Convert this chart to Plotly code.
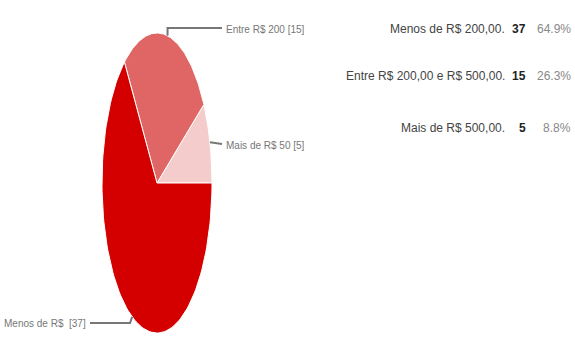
import numpy as np
import plotly.graph_objects as go

# Survey answers: spending bracket and number of responses
categories = ["Menos de R$ 200,00.", "Entre R$ 200,00 e R$ 500,00.", "Mais de R$ 500,00."]
short_labels = ["Menos de R$ ", "Entre R$ 200", "Mais de R$ 50"]
counts = [37, 15, 5]
colors = ["#d40000", "#e06666", "#f4cccc"]

W, H = 575, 340
CX, CY, RX, RY = 157, 183, 55, 150   # pie ellipse in page pixels
FONT = "Liberation Sans, Arial, sans-serif"

total = sum(counts)
fracs = [c / total for c in counts]

# slices are laid out counter-clockwise from 3 o'clock, last category first
order = [2, 1, 0]
start = 0.0
angles = {}
for i in order:
    end = start + fracs[i] * 2 * np.pi
    angles[i] = (start, end)
    start = end


def pt(a, k=1.0):
    return CX + k * RX * np.cos(a), CY - k * RY * np.sin(a)


fig = go.Figure()
for i in order:
    a0, a1 = angles[i]
    t = np.linspace(a0, a1, 120)
    xs = [CX] + list(CX + RX * np.cos(t)) + [CX]
    ys = [CY] + list(CY - RY * np.sin(t)) + [CY]
    fig.add_trace(go.Scatter(
        x=xs, y=ys, mode="lines", fill="toself", fillcolor=colors[i],
        line=dict(color="white", width=1), hoverinfo="skip", showlegend=False))

# leader lines from each slice's mid-angle to its label
mid = {i: (angles[i][0] + angles[i][1]) / 2 for i in order}
leaders = {
    1: [pt(mid[1]), (pt(mid[1])[0], 28), (222, 28)],
    2: [pt(mid[2]), (222, 144)],
    0: [pt(mid[0]), (130, 323), (90, 323)],
}
label_pos = {1: (224, 29, "left"), 2: (224, 145, "left"), 0: (88, 323, "right")}
for i in order:
    px, py = zip(*leaders[i])
    fig.add_trace(go.Scatter(x=list(px), y=list(py), mode="lines",
                             line=dict(color="#777777", width=2),
                             hoverinfo="skip", showlegend=False))
    lx, ly, al = label_pos[i]
    fig.add_annotation(x=lx, y=ly, xref="x", yref="y", showarrow=False,
                       text=f"{short_labels[i]} [{counts[i]}]", xanchor=al,
                       yanchor="middle",
                       font=dict(family=FONT, size=10, color="#777777"))

# summary table on the right
row_y = [29, 76, 128]
for i, cat in enumerate(categories):
    y = row_y[i]
    fig.add_annotation(x=507, y=y, text=cat, xanchor="right", yanchor="middle",
                       showarrow=False, font=dict(family=FONT, size=12, color="#444444"))
    fig.add_annotation(x=528, y=y, text=f"<b>{counts[i]}</b>", xanchor="right",
                       yanchor="middle", showarrow=False,
                       font=dict(family=FONT, size=12, color="#222222"))
    fig.add_annotation(x=573, y=y, text=f"{fracs[i] * 100:.1f}%", xanchor="right",
                       yanchor="middle", showarrow=False,
                       font=dict(family=FONT, size=12, color="#888888"))

fig.update_layout(
    width=W, height=H, margin=dict(l=0, r=0, t=0, b=0),
    paper_bgcolor="white", plot_bgcolor="white",
    xaxis=dict(range=[0, W], visible=False, fixedrange=True),
    yaxis=dict(range=[H, 0], visible=False, fixedrange=True),
)

fig.write_html("out.html")
